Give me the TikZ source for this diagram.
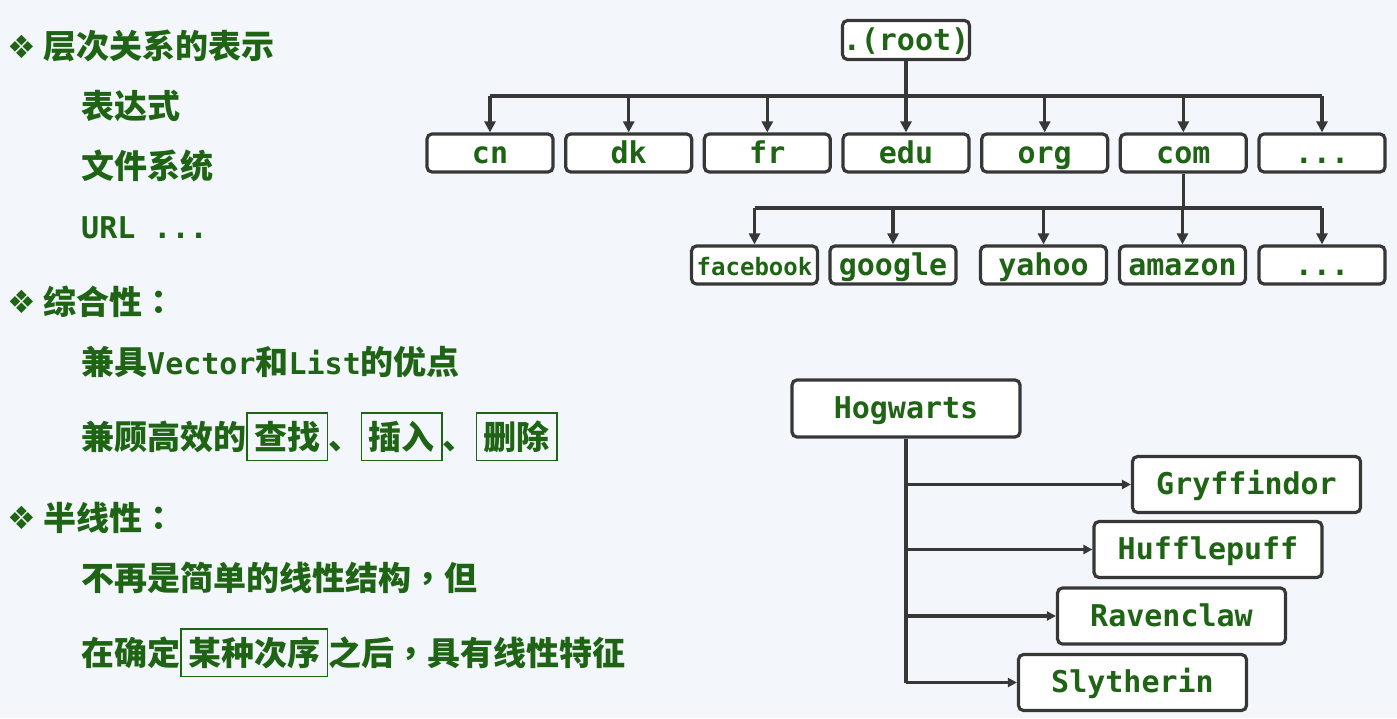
\documentclass[tikz,border=0pt]{standalone}
\usepackage{fontspec}
\usetikzlibrary{arrows.meta}
\newfontfamily\cjk{Noto Sans CJK SC}
\newfontfamily\cjkp{Noto Sans CJK TC}
\newfontfamily\mono{DejaVu Sans Mono}
\newfontfamily\sym{DejaVu Sans}
\definecolor{bgc}{RGB}{243,247,251}
\definecolor{tg}{RGB}{30,100,20}
\definecolor{edgec}{RGB}{55,55,55}
\newcommand\kbox[1]{{\setlength\fboxsep{6.5pt}\setlength\fboxrule{1.4pt}\fbox{\rule[-4pt]{0pt}{33pt}#1}}}
\newcommand\mo[1]{{\mono\bfseries\fontsize{30}{30}\selectfont #1}}
\newcommand\pu[1]{{\cjkp\bfseries #1}}
\begin{document}
\begin{tikzpicture}[x=1pt,y=-1pt,
  box/.style={draw=edgec, line width=3.2pt, rounded corners=5pt, fill=white, inner sep=0pt,
    text=tg, font=\mono\bfseries\fontsize{30}{30}\selectfont, text height=24pt, text depth=4pt},
  lbox/.style={box, minimum width=126pt, minimum height=38pt},
  hbox/.style={box, minimum width=228pt, minimum height=56pt},
  conn/.style={draw=edgec, line width=3.2pt},
  arr/.style={conn, -{Triangle[length=11pt,width=11pt]}},
  harr/.style={conn, -{Triangle[length=9pt,width=9pt]}},
  txt/.style={anchor=base west, inner sep=0pt, text=tg, font=\cjk\bfseries\fontsize{33}{33}\selectfont},
  bul/.style={inner sep=0pt, text=tg, font=\sym\fontsize{32}{32}\selectfont}]
\fill[bgc] (0,0) rectangle (1397,718);
\useasboundingbox (0,0) rectangle (1397,718);

% ---------- left text ----------
\node[bul] (b1) at (22,47) {❖};
\node[txt] (t1) at (43,58) {层次关系的表示};
\node[txt] (t2) at (81,118) {表达式};
\node[txt] (t3) at (81,178) {文件系统};
\node[txt] (t4) at (81,238) {\mo{URL ...}};
\node[bul] (b2) at (22,302) {❖};
\node[txt] (t5) at (43,314) {综合性\pu{：}};
\node[txt] (t6) at (81,374) {兼具\mo{Vector}和\mo{List}的优点};
\node[txt] (t7) at (81,449) {兼顾高效的\kbox{查找}、\kbox{插入}、\kbox{删除}};
\node[bul] (b3) at (22,518) {❖};
\node[txt] (t8) at (43,530) {半线性\pu{：}};
\node[txt] (t9) at (81,590) {不再是简单的线性结构\pu{，}但};
\node[txt] (t10) at (81,665) {在确定\kbox{某种次序}之后\pu{，}具有线性特征};

% ---------- domain tree ----------
\node[box, minimum width=127pt, minimum height=39pt] (root) at (906,40) {.(root)};
\node[lbox] (cn)  at (490,153)    {cn};
\node[lbox] (dk)  at (628.7,153)  {dk};
\node[lbox] (fr)  at (767.3,153)  {fr};
\node[lbox] (edu) at (906,153)    {edu};
\node[lbox] (org) at (1044.7,153) {org};
\node[lbox] (com) at (1183.3,153) {com};
\node[lbox] (d1)  at (1322,153)   {...};

\node[lbox, font=\mono\bfseries\fontsize{24}{24}\selectfont] (fb) at (754.5,265) {facebook};
\node[lbox] (gg) at (893,265)    {google};
\node[lbox] (yh) at (1043.5,265) {yahoo};
\node[lbox] (am) at (1182.5,265) {amazon};
\node[lbox] (d2) at (1322,265)   {...};

\coordinate (bus1) at (906,96);
\draw[conn] (root.south) -- (bus1);
\draw[conn] (cn.north |- bus1) -- (d1.north |- bus1);
\foreach \n in {cn,dk,fr,edu,org,com,d1}
  \draw[arr] (\n.north |- bus1) -- (\n.north);

\coordinate (bus2) at (1183.3,208);
\draw[conn] (com.south) -- (bus2);
\draw[conn] (fb.north |- bus2) -- (d2.north |- bus2);
\foreach \n in {fb,gg,yh,am,d2}
  \draw[arr] (\n.north |- bus2) -- (\n.north);

% ---------- Hogwarts ----------
\node[hbox, minimum height=57pt] (hog) at (906,408.5) {Hogwarts};
\node[hbox] (gry) at (1246.5,484.5) {Gryffindor};
\node[hbox] (huf) at (1208,549.5)   {Hufflepuff};
\node[hbox] (rav) at (1171.5,616)   {Ravenclaw};
\node[hbox] (sly) at (1132.5,682.5) {Slytherin};

\draw[conn] (hog.south) -- (hog.south |- sly.west);
\foreach \n in {gry,huf,rav,sly}
  \draw[harr] (hog.south |- \n.west) -- (\n.west);
\end{tikzpicture}
\end{document}
